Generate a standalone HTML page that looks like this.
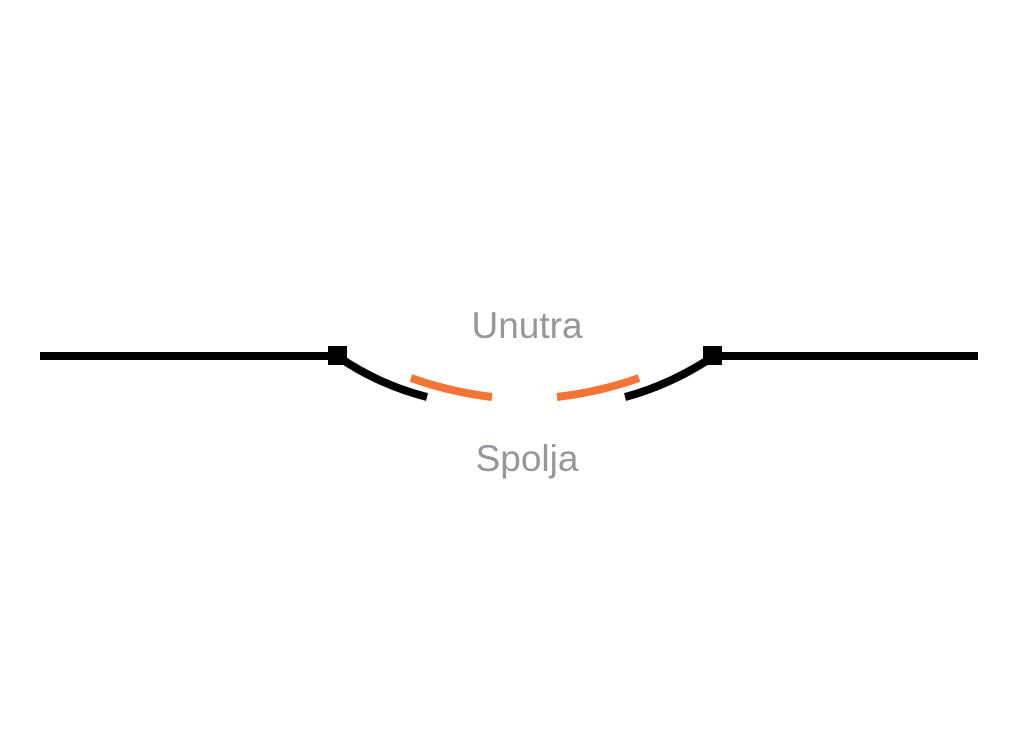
<!DOCTYPE html>
<html><head><meta charset="utf-8"><style>
html,body{margin:0;padding:0;background:#fff;width:1024px;height:738px;overflow:hidden}
</style></head><body>
<svg width="1024" height="738" viewBox="0 0 1024 738" xmlns="http://www.w3.org/2000/svg">
<line x1="40" y1="356" x2="337" y2="356" stroke="#000" stroke-width="8"/>
<line x1="712" y1="356" x2="978" y2="356" stroke="#000" stroke-width="8"/>
<rect x="328" y="346" width="19" height="19" fill="#000"/>
<rect x="703" y="346" width="19" height="19" fill="#000"/>
<path d="M340 358 Q380 385 427 397" fill="none" stroke="#000" stroke-width="8"/>
<path d="M711 358 Q670 385 625 397" fill="none" stroke="#000" stroke-width="8"/>
<path d="M411 378 Q450 392 492 397" fill="none" stroke="#f37435" stroke-width="8"/>
<path d="M639 378 Q600 392 557 397" fill="none" stroke="#f37435" stroke-width="8"/>
<text x="527" y="338" text-anchor="middle" font-family="Liberation Sans, sans-serif" font-size="37" fill="#97979b">Unutra</text>
<text x="527" y="471" text-anchor="middle" font-family="Liberation Sans, sans-serif" font-size="37" fill="#97979b">Spolja</text>
</svg>
</body></html>
